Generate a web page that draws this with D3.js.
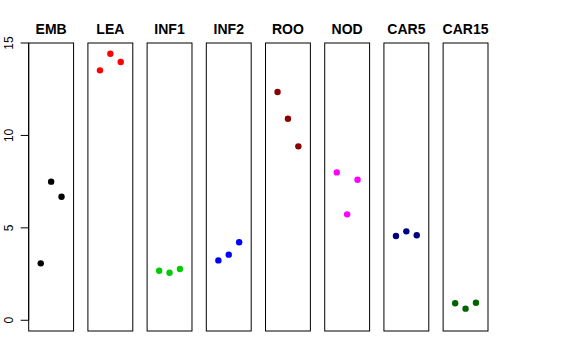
<!DOCTYPE html>
<html><head><meta charset="utf-8">
<script src="https://cdn.jsdelivr.net/npm/d3@7"></script>
<style>body{margin:0;background:#fff}svg{display:block}</style>
</head><body>
<script>
const categories = ["EMB","LEA","INF1","INF2","ROO","NOD","CAR5","CAR15"];
const colors = ["#000000","#FF0000","#00CD00","#0000FF","#8B0000","#FF00FF","#000080","#006400"];
const replicate = [1,2,3];
const EMB = [3.08, 7.50, 6.68];
const LEA = [13.52, 14.42, 13.97];
const INF1 = [2.68, 2.57, 2.77];
const INF2 = [3.24, 3.55, 4.22];
const ROO = [12.35, 10.90, 9.41];
const NOD = [8.00, 5.73, 7.60];
const CAR5 = [4.56, 4.81, 4.60];
const CAR15 = [0.92, 0.63, 0.95];
const yTicks = [0, 5, 10, 15];

(function () {
const series = [EMB, LEA, INF1, INF2, ROO, NOD, CAR5, CAR15];
const W = 576, H = 360;
const svg = d3.select("body").append("svg").attr("width", W).attr("height", H);

const pTop = 43, pBottom = 331;
const y = d3.scaleLinear().domain([-0.58, 15]).range([pBottom, pTop]);
const band = d3.scaleBand().domain(categories).range([28.7, 488]).paddingInner(0.242).paddingOuter(0);
const x = d3.scaleLinear().domain([-0.16, 4.16]).range([0, band.bandwidth()]);

categories.forEach((cat, i) => {
  const g = svg.append("g").attr("transform", `translate(${band(cat)},0)`);
  g.append("rect").attr("x", 0).attr("y", pTop).attr("width", band.bandwidth()).attr("height", pBottom - pTop)
    .attr("fill", "none").attr("stroke", "#000").attr("stroke-width", 1);
  g.append("text").attr("x", band.bandwidth() / 2).attr("y", 34).attr("text-anchor", "middle")
    .attr("font-family", "Liberation Sans, Arial, sans-serif").attr("font-weight", "bold").attr("font-size", 14)
    .text(cat);
  g.selectAll("circle").data(series[i]).enter().append("circle")
    .attr("cx", (d, j) => x(replicate[j])).attr("cy", d => y(d)).attr("r", 3.2)
    .attr("fill", colors[i]);
});

// y axis
const ax = svg.append("g").attr("transform", `translate(28.7,0)`);
ax.append("line").attr("x1", 0).attr("x2", 0).attr("y1", y(0)).attr("y2", y(15)).attr("stroke", "#000");
yTicks.forEach(t => {
  ax.append("line").attr("x1", -8).attr("x2", 0).attr("y1", y(t)).attr("y2", y(t)).attr("stroke", "#000");
  ax.append("text").attr("transform", `translate(-15.4,${y(t)}) rotate(-90)`).attr("text-anchor", "middle")
    .attr("font-family", "Liberation Sans, Arial, sans-serif").attr("font-size", 12).text(t);
});
})();
</script>
</body></html>
